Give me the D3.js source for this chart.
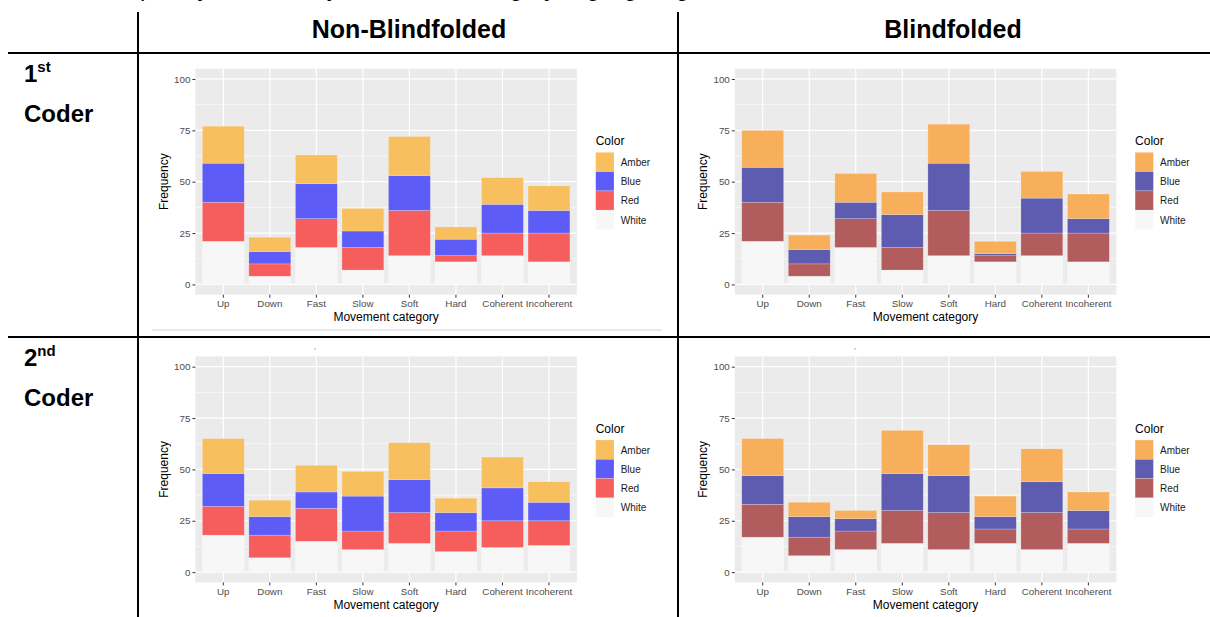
<!DOCTYPE html>
<html>
<head>
<meta charset="utf-8">
<script src="https://cdn.jsdelivr.net/npm/d3@7"></script>
<style>
  body { margin: 0; background: #fff; }
  svg { display: block; }
</style>
</head>
<body>
<div id="chart"></div>
<script>
// Movement categories on the x axis
const categories = ["Up", "Down", "Fast", "Slow", "Soft", "Hard", "Coherent", "Incoherent"];
const colorKeys = ["White", "Red", "Blue", "Amber"];      // stacking order, bottom -> top
const legendKeys = ["Amber", "Blue", "Red", "White"];     // legend order
const yTicks = [0, 25, 50, 75, 100];
const yMinor = [12.5, 37.5, 62.5, 87.5];

// 1st coder, non-blindfolded (segment counts)
const c1nbWhite = [21, 4, 18, 7, 14, 11, 14, 11];
const c1nbRed   = [19, 6, 14, 11, 22, 3, 11, 14];
const c1nbBlue  = [19, 6, 17, 8, 17, 8, 14, 11];
const c1nbAmber = [18, 7, 14, 11, 19, 6, 13, 12];

// 1st coder, blindfolded
const c1bWhite = [21, 4, 18, 7, 14, 11, 14, 11];
const c1bRed   = [19, 6, 14, 11, 22, 3, 11, 14];
const c1bBlue  = [17, 7, 8, 16, 23, 1, 17, 7];
const c1bAmber = [18, 7, 14, 11, 19, 6, 13, 12];

// 2nd coder, non-blindfolded
const c2nbWhite = [18, 7, 15, 11, 14, 10, 12, 13];
const c2nbRed   = [14, 11, 16, 9, 15, 10, 13, 12];
const c2nbBlue  = [16, 9, 8, 17, 16, 9, 16, 9];
const c2nbAmber = [17, 8, 13, 12, 18, 7, 15, 10];

// 2nd coder, blindfolded
const c2bWhite = [17, 8, 11, 14, 11, 14, 11, 14];
const c2bRed   = [16, 9, 9, 16, 18, 7, 18, 7];
const c2bBlue  = [14, 10, 6, 18, 18, 6, 15, 9];
const c2bAmber = [18, 7, 4, 21, 15, 10, 16, 9];

const paletteNonBlind = { Amber: "#F7BF5E", Blue: "#5E5CF6", Red: "#F65E5E", White: "#F7F7F7" };
const paletteBlind    = { Amber: "#F7AF5C", Blue: "#5E5CB0", Red: "#B35C5E", White: "#F7F7F7" };

function rows(white, red, blue, amber) {
    return categories.map((c, i) => ({ cat: c, White: white[i], Red: red[i], Blue: blue[i], Amber: amber[i] }));
}

const W = 1210, H = 617;
const svg = d3.select("#chart").append("svg")
    .attr("width", W).attr("height", H)
    .attr("viewBox", `0 0 ${W} ${H}`);

// caption line cut off at the top of the page (only descenders show)
svg.append("text")
    .attr("x", 96).attr("y", -4.5)
    .attr("font-family", "Liberation Sans, Arial, sans-serif")
    .attr("font-size", "24px")
    .text("Frequency of colors by movement category, highlighting coders");

// table lines
const table = svg.append("g").attr("stroke", "#000").attr("stroke-width", 2);
table.append("line").attr("x1", 8).attr("x2", W).attr("y1", 53).attr("y2", 53);
table.append("line").attr("x1", 8).attr("x2", W).attr("y1", 337).attr("y2", 337);
table.append("line").attr("x1", 138).attr("x2", 138).attr("y1", 12).attr("y2", H);
table.append("line").attr("x1", 678).attr("x2", 678).attr("y1", 12).attr("y2", H);

svg.append("line").attr("x1", 152).attr("x2", 662).attr("y1", 330).attr("y2", 330)
    .attr("stroke", "#d2d2d2").attr("stroke-width", 1);

// headers
const head = svg.append("g")
    .attr("font-family", "Liberation Sans, Arial, sans-serif")
    .attr("font-weight", "bold").attr("font-size", "25px")
    .attr("text-anchor", "middle");
head.append("text").attr("x", 409).attr("y", 38).text("Non-Blindfolded");
head.append("text").attr("x", 953).attr("y", 38).text("Blindfolded");

// row labels
function rowLabel(y0, num, sup) {
    const g = svg.append("g")
        .attr("font-family", "Liberation Sans, Arial, sans-serif")
        .attr("font-weight", "bold");
    const t = g.append("text").attr("x", 24).attr("y", y0).attr("font-size", "24px");
    t.append("tspan").text(num);
    t.append("tspan").attr("font-size", "15px").attr("dy", -10).text(sup);
    g.append("text").attr("x", 24).attr("y", y0 + 40).attr("font-size", "24px").text("Coder");
}
rowLabel(81.5, "1", "st");
rowLabel(365.5, "2", "nd");

// one ggplot-like panel
const pw = 381.5, ph = 226;

function drawPanel(px, py, data, palette) {
    const g = svg.append("g").attr("transform", `translate(${px},${py})`);

    const x = d3.scaleBand().domain(categories).range([0, pw])
        .paddingInner(0.1).paddingOuter(0.15);
    const y = d3.scaleLinear().domain([-5, 105]).range([ph, 0]);

    g.append("rect").attr("width", pw).attr("height", ph).attr("fill", "#EBEBEB");

    g.selectAll(".minor").data(yMinor).enter().append("line")
        .attr("x1", 0).attr("x2", pw)
        .attr("y1", d => y(d)).attr("y2", d => y(d))
        .attr("stroke", "#fff").attr("stroke-width", 0.6);
    g.selectAll(".major").data(yTicks).enter().append("line")
        .attr("x1", 0).attr("x2", pw)
        .attr("y1", d => y(d)).attr("y2", d => y(d))
        .attr("stroke", "#fff").attr("stroke-width", 1.2);
    g.selectAll(".vgrid").data(categories).enter().append("line")
        .attr("x1", d => x(d) + x.bandwidth() / 2).attr("x2", d => x(d) + x.bandwidth() / 2)
        .attr("y1", 0).attr("y2", ph)
        .attr("stroke", "#fff").attr("stroke-width", 1.2);

    const series = d3.stack().keys(colorKeys)(data);
    g.selectAll(".layer").data(series).enter().append("g")
        .attr("fill", d => palette[d.key])
        .selectAll("rect").data(d => d).enter().append("rect")
        .attr("x", d => x(d.data.cat))
        .attr("width", x.bandwidth())
        .attr("y", d => y(d[1]))
        .attr("height", d => y(d[0]) - y(d[1]))
        .attr("stroke", "#fff").attr("stroke-opacity", 0.35).attr("stroke-width", 0.6);

    const yAxis = g.append("g")
        .call(d3.axisLeft(y).tickValues(yTicks).tickSize(3).tickPadding(2));
    const xAxis = g.append("g").attr("transform", `translate(0,${ph})`)
        .call(d3.axisBottom(x).tickSize(3).tickPadding(2.4));
    [yAxis, xAxis].forEach(a => {
        a.select(".domain").remove();
        a.selectAll("line").attr("stroke", "#333").attr("stroke-width", 1);
        a.selectAll("text").attr("fill", "#4D4D4D")
            .attr("font-family", "Liberation Sans, Arial, sans-serif")
            .attr("font-size", "9.8px");
    });

    g.append("text")
        .attr("x", pw / 2).attr("y", ph + 26.5)
        .attr("text-anchor", "middle")
        .attr("font-family", "Liberation Sans, Arial, sans-serif")
        .attr("font-size", "12px").attr("fill", "#000")
        .text("Movement category");
    g.append("text")
        .attr("transform", `translate(-27.8,${ph / 2}) rotate(-90)`)
        .attr("text-anchor", "middle")
        .attr("font-family", "Liberation Sans, Arial, sans-serif")
        .attr("font-size", "12px").attr("fill", "#000")
        .text("Frequency");

    // legend
    const lg = g.append("g").attr("transform", `translate(${pw + 18.8},0)`)
        .attr("font-family", "Liberation Sans, Arial, sans-serif");
    lg.append("text").attr("x", 0).attr("y", 76.5)
        .attr("font-size", "12px").attr("fill", "#000").text("Color");
    const items = lg.selectAll(".item").data(legendKeys).enter().append("g")
        .attr("transform", (d, i) => `translate(0,${83.6 + i * 19.3})`);
    items.append("rect").attr("width", 18.3).attr("height", 19.3)
        .attr("fill", d => palette[d])
        .attr("stroke", "#fff").attr("stroke-opacity", 0.35).attr("stroke-width", 0.6);
    items.append("text").attr("x", 25).attr("y", 13.6)
        .attr("font-size", "10px").attr("fill", "#1A1A1A").text(d => d);

    return g;
}

drawPanel(195.4, 68.7, rows(c1nbWhite, c1nbRed, c1nbBlue, c1nbAmber), paletteNonBlind);
drawPanel(734.8, 68.7, rows(c1bWhite, c1bRed, c1bBlue, c1bAmber), paletteBlind);
drawPanel(195.4, 356.4, rows(c2nbWhite, c2nbRed, c2nbBlue, c2nbAmber), paletteNonBlind);
drawPanel(734.8, 356.4, rows(c2bWhite, c2bRed, c2bBlue, c2bAmber), paletteBlind);

// small specks above the lower plots
svg.append("rect").attr("x", 314).attr("y", 348.5).attr("width", 2).attr("height", 1).attr("fill", "#aaa");
svg.append("rect").attr("x", 854).attr("y", 348.5).attr("width", 2).attr("height", 1).attr("fill", "#aaa");
</script>
</body>
</html>
